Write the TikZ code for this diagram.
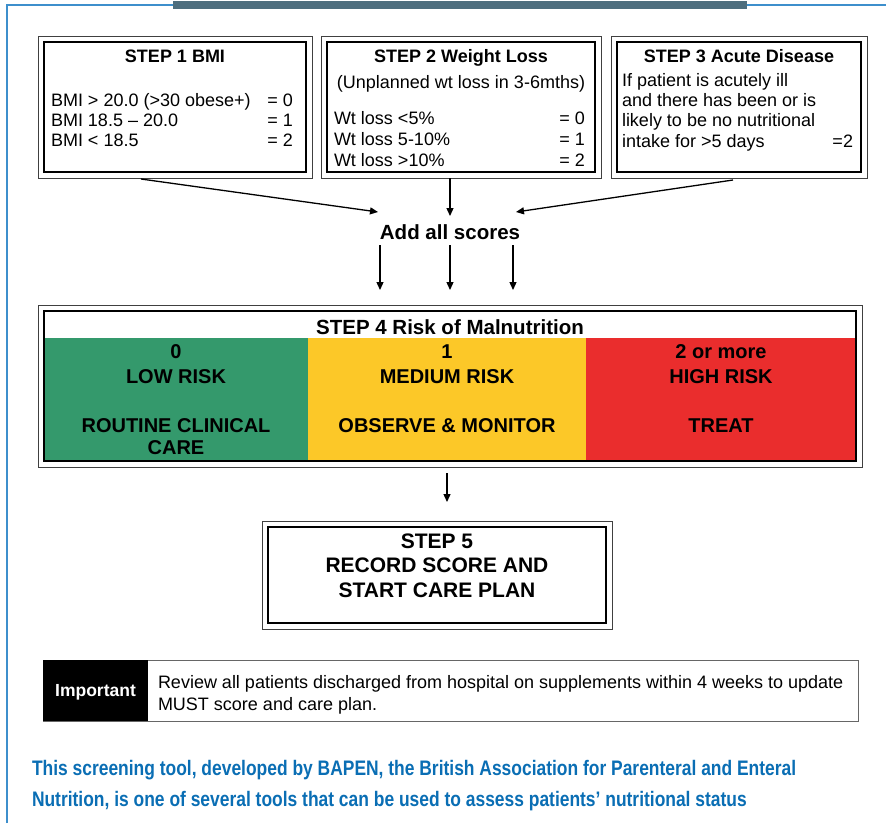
\documentclass[tikz,border=0pt]{standalone}
\usepackage{fontspec}
\setmainfont{Liberation Sans}
\newfontfamily\condfont{Liberation Sans}[FakeStretch=0.83]
\usetikzlibrary{arrows.meta,calc}
\definecolor{frameblue}{HTML}{3D8FCC}
\definecolor{barslate}{HTML}{4E6E7E}
\definecolor{lowgreen}{HTML}{34996C}
\definecolor{medyellow}{HTML}{FCC828}
\definecolor{highred}{HTML}{EA2D2D}
\definecolor{captionblue}{HTML}{0A6EB4}
\newcommand\myfs[1]{\fontsize{#1}{#1}\selectfont}
\begin{document}
\begin{tikzpicture}[x=1pt,y=-1pt,
  stepbox/.style={draw=black, line width=2.4pt, inner sep=0pt, outer sep=0pt},
  outerline/.style={draw=black!75, line width=0.9pt},
  txt/.style={inner sep=0pt, outer sep=0pt, anchor=base west, font=\myfs{18}},
  rtxt/.style={inner sep=0pt, outer sep=0pt, anchor=base east, font=\myfs{18}},
  ttl/.style={inner sep=0pt, outer sep=0pt, anchor=base, font=\bfseries\myfs{18}},
  sub/.style={inner sep=0pt, outer sep=0pt, anchor=base, font=\myfs{18}},
  big/.style={inner sep=0pt, outer sep=0pt, anchor=base, font=\bfseries\myfs{20}},
  arr/.style={-{Triangle[length=8pt,width=7pt]}, line width=1.3pt},
  caption/.style={inner sep=0pt, outer sep=0pt, anchor=base west, text=captionblue, font=\condfont\bfseries\myfs{21}}
]
\useasboundingbox (0,0) rectangle (886,823);
% frame
\draw[frameblue, line width=1.5pt] (7,823) -- (7,5) -- (173,5);
\draw[frameblue, line width=1.5pt] (747,5) -- (886,5);
\fill[barslate] (173,1) rectangle (747,9);

% step boxes
\node[stepbox, minimum width=262pt, minimum height=130pt] (s1) at (175,107) {};
\node[stepbox, minimum width=268pt, minimum height=130pt] (s2) at (461,107) {};
\node[stepbox, minimum width=244pt, minimum height=130pt] (s3) at (739,107) {};

% step 4 fills
\fill[white] (44,311) rectangle (856,338);
\fill[lowgreen] (44,338) rectangle (308,461);
\fill[medyellow] (308,338) rectangle (586,461);
\fill[highred] (586,338) rectangle (856,461);
\node[stepbox, minimum width=812pt, minimum height=150pt] (s4) at (450,386) {};
\node[stepbox, minimum width=338pt, minimum height=96pt] (s5) at (437,575) {};

\foreach \n in {s1,s2,s3,s4,s5}
  \draw[outerline] ([shift={(-6pt,6pt)}]\n.north west) rectangle ([shift={(6pt,-6pt)}]\n.south east);

% step 1 text
\node[ttl] (t1) at (175,62) {STEP 1 BMI};
\node[txt] (t1a) at (51,106) {BMI > 20.0 (>30 obese+)};
\node[txt] (t1b) at (51,126) {BMI 18.5 – 20.0};
\node[txt] (t1c) at (51,146) {BMI < 18.5};
\node[rtxt] (v1a) at (293,106) {= 0};
\node[rtxt] (v1b) at (293,126) {= 1};
\node[rtxt] (v1c) at (293,146) {= 2};

% step 2 text
\node[ttl] (t2) at (461,62) {STEP 2 Weight Loss};
\node[sub] (t2s) at (461,88) {(Unplanned wt loss in 3-6mths)};
\node[txt] (t2a) at (334,124) {Wt loss <5\%};
\node[txt] (t2b) at (334,145) {Wt loss 5-10\%};
\node[txt] (t2c) at (334,166) {Wt loss >10\%};
\node[rtxt] (v2a) at (585,124) {= 0};
\node[rtxt] (v2b) at (585,145) {= 1};
\node[rtxt] (v2c) at (585,166) {= 2};

% step 3 text
\node[ttl] (t3) at (739,62) {STEP 3 Acute Disease};
\node[txt] (t3a) at (622,86) {If patient is acutely ill};
\node[txt] (t3b) at (622,106) {and there has been or is};
\node[txt] (t3c) at (622,126) {likely to be no nutritional};
\node[txt] (t3d) at (622,147) {intake for >5 days};
\node[rtxt] (v3d) at (853,147) {=2};

% add all scores
\node[inner sep=0pt, outer sep=0pt, anchor=base, text height=27pt, text depth=6pt, font=\bfseries\myfs{20.5}] (add) at (450,239) {Add all scores};

\draw[arr] ([xshift=-34pt,yshift=-7pt]s1.south) -- ([xshift=-72pt]add.north);
\draw[arr] ([xshift=-11pt,yshift=-6pt]s2.south) -- ([yshift=-4pt]add.north);
\draw[arr] ([xshift=-6pt,yshift=-8pt]s3.south) -- ([xshift=66pt]add.north);

\draw[arr] ([xshift=-70pt]add.south) -- ([xshift=-70pt,yshift=21pt]s4.north);
\draw[arr] (add.south) -- ([yshift=21pt]s4.north);
\draw[arr] ([xshift=63pt]add.south) -- ([xshift=63pt,yshift=21pt]s4.north);

% step 4 text
\node[big, font=\bfseries\myfs{20.5}] (t4) at (450,334) {STEP 4 Risk of Malnutrition};
\node[big] (g1) at (176,358) {0};
\node[big] (g2) at (176,383) {LOW RISK};
\node[big] (g3) at (176,432) {ROUTINE CLINICAL};
\node[big] (g4) at (176,454) {CARE};
\node[big] (y1) at (447,358) {1};
\node[big] (y2) at (447,383) {MEDIUM RISK};
\node[big] (y3) at (447,432) {OBSERVE \& MONITOR};
\node[big] (r1) at (721,358) {2 or more};
\node[big] (r2) at (721,383) {HIGH RISK};
\node[big] (r3) at (721,432) {TREAT};

\draw[arr] ([xshift=-3pt,yshift=-12pt]s4.south) -- ([xshift=10pt,yshift=25pt]s5.north);

% step 5 text
\node[big, font=\bfseries\myfs{21}] (t5a) at (437,548) {STEP 5};
\node[big, font=\bfseries\myfs{21}] (t5b) at (437,572) {RECORD SCORE AND};
\node[big, font=\bfseries\myfs{21}] (t5c) at (437,597) {START CARE PLAN};

% important box
\node[draw=black!60, line width=1pt, minimum width=815pt, minimum height=61pt, inner sep=0pt, outer sep=0pt] (impbox) at (450.5,690.5) {};
\node[fill=black, minimum width=105pt, minimum height=61pt, inner sep=0pt, outer sep=0pt, text=white, text height=12.5pt, text depth=0pt, font=\bfseries\myfs{17.5}] (imp) at (95.5,690.5) {Important};
\node[txt] (rv1) at (158,688) {Review all patients discharged from hospital on supplements within 4 weeks to update};
\node[txt] (rv2) at (158,710) {MUST score and care plan.};

% caption
\node[caption] (c1) at (32,775) {This screening tool, developed by BAPEN, the British Association for Parenteral and Enteral};
\node[caption] (c2) at (32,806) {Nutrition, is one of several tools that can be used to assess patients’ nutritional status};
\end{tikzpicture}
\end{document}
